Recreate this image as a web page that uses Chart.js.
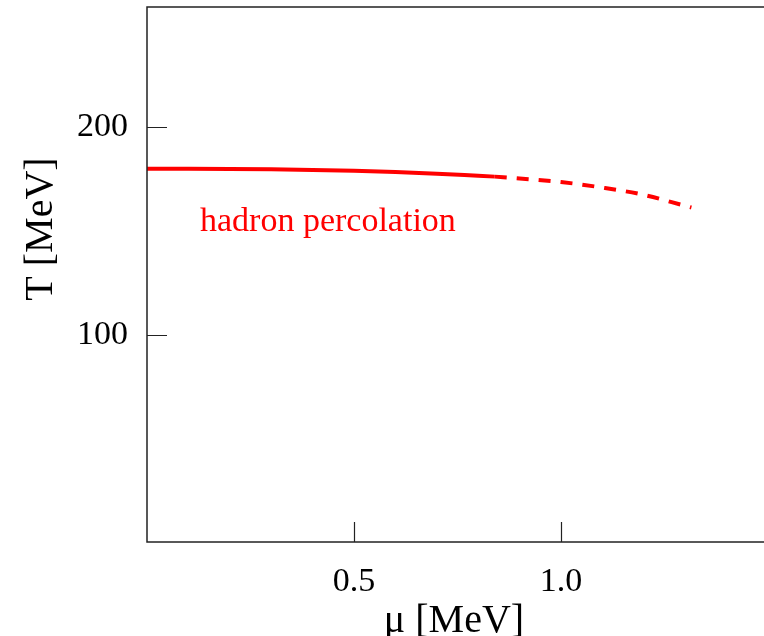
<!DOCTYPE html>
<html>
<head>
<meta charset="utf-8">
<script src="https://cdn.jsdelivr.net/npm/chart.js@4/dist/chart.umd.min.js"></script>
<style>
  html, body { margin: 0; padding: 0; background: #fff; overflow: hidden; }
  #wrap { width: 780px; height: 636px; }
</style>
</head>
<body>
<div id="wrap"><canvas id="phase" width="780" height="636"></canvas></div>
<script>
// Percolation line in the (mu, T) plane: measured part solid, extrapolation dashed
const muSolid = [0, 0.1, 0.2, 0.3, 0.4, 0.5, 0.6, 0.7, 0.8, 0.84];
const tSolid  = [180.0, 180.0, 179.9, 179.7, 179.4, 179.0, 178.4, 177.6, 176.6, 176.2];
const muDashed = [0.84, 0.9, 1.0, 1.1, 1.2, 1.3, 1.315];
const tDashed  = [176.2, 175.3, 173.6, 170.9, 167.4, 162.1, 161.3];

const xTicks = [0.5, 1.0];
const yTicks = [100, 200];
const curveLabel = 'hadron percolation';

const SERIF = '"Liberation Serif", "DejaVu Serif", serif';
const RED = '#ff0000';

function toPoints(xs, ys) {
  return xs.map((x, i) => ({ x, y: ys[i] }));
}

// frame, inward ticks, axis titles and in-plot label
const decor = {
  id: 'decor',
  afterDraw(chart) {
    const { ctx, chartArea: a, scales } = chart;
    ctx.save();
    ctx.strokeStyle = '#222';
    ctx.lineWidth = 1.5;
    ctx.strokeRect(a.left, a.top, a.right - a.left, a.bottom - a.top);

    ctx.lineWidth = 1.2;
    ctx.beginPath();
    xTicks.forEach(v => {
      const px = Math.round(scales.x.getPixelForValue(v)) + 0.5;
      ctx.moveTo(px, a.bottom);
      ctx.lineTo(px, a.bottom - 20);
    });
    yTicks.forEach(v => {
      const py = Math.round(scales.y.getPixelForValue(v)) + 0.5;
      ctx.moveTo(a.left, py);
      ctx.lineTo(a.left + 20, py);
    });
    ctx.stroke();

    ctx.fillStyle = '#000';
    ctx.font = '40px ' + SERIF;
    ctx.textAlign = 'center';
    ctx.textBaseline = 'alphabetic';
    ctx.fillText('\u03bc [MeV]', 454, 632);

    ctx.save();
    ctx.translate(52, 229);
    ctx.rotate(-Math.PI / 2);
    ctx.fillText('T [MeV]', 0, 0);
    ctx.restore();

    ctx.fillStyle = RED;
    ctx.font = '34px ' + SERIF;
    ctx.textAlign = 'left';
    ctx.fillText(curveLabel, 200, 231);
    ctx.restore();
  }
};

new Chart(document.getElementById('phase'), {
  type: 'line',
  data: {
    datasets: [
      {
        data: toPoints(muSolid, tSolid),
        borderColor: RED,
        borderWidth: 4,
        pointRadius: 0,
        cubicInterpolationMode: 'monotone',
      },
      {
        data: toPoints(muDashed, tDashed),
        borderColor: RED,
        borderWidth: 4,
        borderDash: [12, 10],
        pointRadius: 0,
        cubicInterpolationMode: 'monotone',
      },
    ],
  },
  options: {
    responsive: false,
    animation: false,
    layout: { padding: { top: 7, right: 12, left: 0, bottom: 0 } },
    plugins: { legend: { display: false }, tooltip: { enabled: false } },
    scales: {
      x: {
        type: 'linear',
        min: 0,
        max: 1.5,
        afterBuildTicks: s => { s.ticks = xTicks.map(v => ({ value: v })); },
        afterFit: s => { s.height = 94; s.paddingLeft = 0; s.paddingRight = 0; },
        grid: { display: false, drawTicks: false },
        border: { display: false },
        ticks: {
          color: '#000',
          font: { family: SERIF, size: 34 },
          padding: 20,
          callback: v => v.toFixed(1),
        },
      },
      y: {
        type: 'linear',
        min: 0,
        max: 258,
        afterBuildTicks: s => { s.ticks = yTicks.map(v => ({ value: v })); },
        afterFit: s => { s.width = 147; s.paddingTop = 0; s.paddingBottom = 0; },
        grid: { display: false, drawTicks: false },
        border: { display: false },
        ticks: {
          color: '#000',
          font: { family: SERIF, size: 34 },
          padding: 19,
        },
      },
    },
  },
  plugins: [decor],
});
</script>
</body>
</html>
